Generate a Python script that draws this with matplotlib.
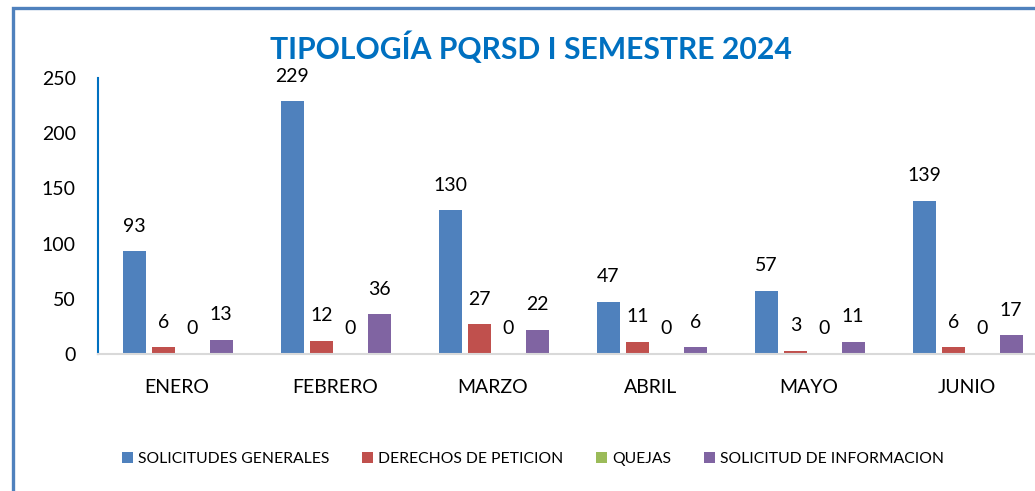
import matplotlib
matplotlib.use("Agg")
import matplotlib.pyplot as plt
from matplotlib.patches import Rectangle
import numpy as np

plt.rcParams['font.family'] = ['Lato', 'DejaVu Sans']

months = ["ENERO", "FEBRERO", "MARZO", "ABRIL", "MAYO", "JUNIO"]
series_names = ["SOLICITUDES GENERALES", "DERECHOS DE PETICION", "QUEJAS", "SOLICITUD DE INFORMACION"]
solicitudes_generales = [93, 229, 130, 47, 57, 139]
derechos_peticion = [6, 12, 27, 11, 3, 6]
quejas = [0, 0, 0, 0, 0, 0]
solicitud_informacion = [13, 36, 22, 6, 11, 17]
colors = ["#4F81BD", "#C0504D", "#9BBB59", "#8064A2"]
title = "TIPOLOGÍA PQRSD I SEMESTRE 2024"
yticks = [0, 50, 100, 150, 200, 250]

W, H = 1035, 491
fig = plt.figure(figsize=(W / 100, H / 100), dpi=100)

# outer frame
fig.patches.append(Rectangle((13 / W, -0.2), 2.0, 1.2 - 8 / H, transform=fig.transFigure,
                             fill=False, edgecolor="#4F81BD", linewidth=2.4, clip_on=False))

ax = fig.add_axes([98 / W, 1 - 354 / H, 948 / W, (354 - 78) / H])
x = np.arange(len(months))
step = 0.183
bw = 0.146
all_series = [solicitudes_generales, derechos_peticion, quejas, solicitud_informacion]
for i, (vals, name, c) in enumerate(zip(all_series, series_names, colors)):
    pos = x + (i - 1.5) * step + 0.005
    ax.bar(pos, vals, width=bw, color=c, label=name, zorder=2)
    for xp, v in zip(pos, vals):
        ax.annotate(str(v), (xp, v), xytext=(0, 12), textcoords="offset points",
                    ha="center", va="bottom", fontsize=14, color="black")

ax.set_xlim(-0.5, len(months) - 0.5)
ax.set_ylim(0, 250)
ax.set_yticks(yticks)
ax.set_xticks(x)
ax.set_xticklabels(months)
ax.tick_params(axis="y", length=0, pad=16, labelsize=14)
ax.tick_params(axis="x", length=0, pad=18, labelsize=14)
for s in ["top", "right"]:
    ax.spines[s].set_visible(False)
ax.spines["left"].set_color("#0070C0")
ax.spines["left"].set_linewidth(1.5)
ax.spines["bottom"].set_color("#D9D9D9")
ax.spines["bottom"].set_linewidth(1.5)
ax.patch.set_alpha(0)

fig.text(531 / W, 1 - 48 / H, title, ha="center", va="center", fontsize=21.7,
         fontweight="bold", color="#0070C0")

handles, labels = ax.get_legend_handles_labels()
fig.legend(handles, labels, loc="center", bbox_to_anchor=(533 / W, 1 - 459 / H), ncol=4,
           frameon=False, fontsize=11.3, handlelength=0.7, handleheight=0.7,
           handletextpad=0.35, columnspacing=2.05)

fig.savefig("out.png", dpi=100)
